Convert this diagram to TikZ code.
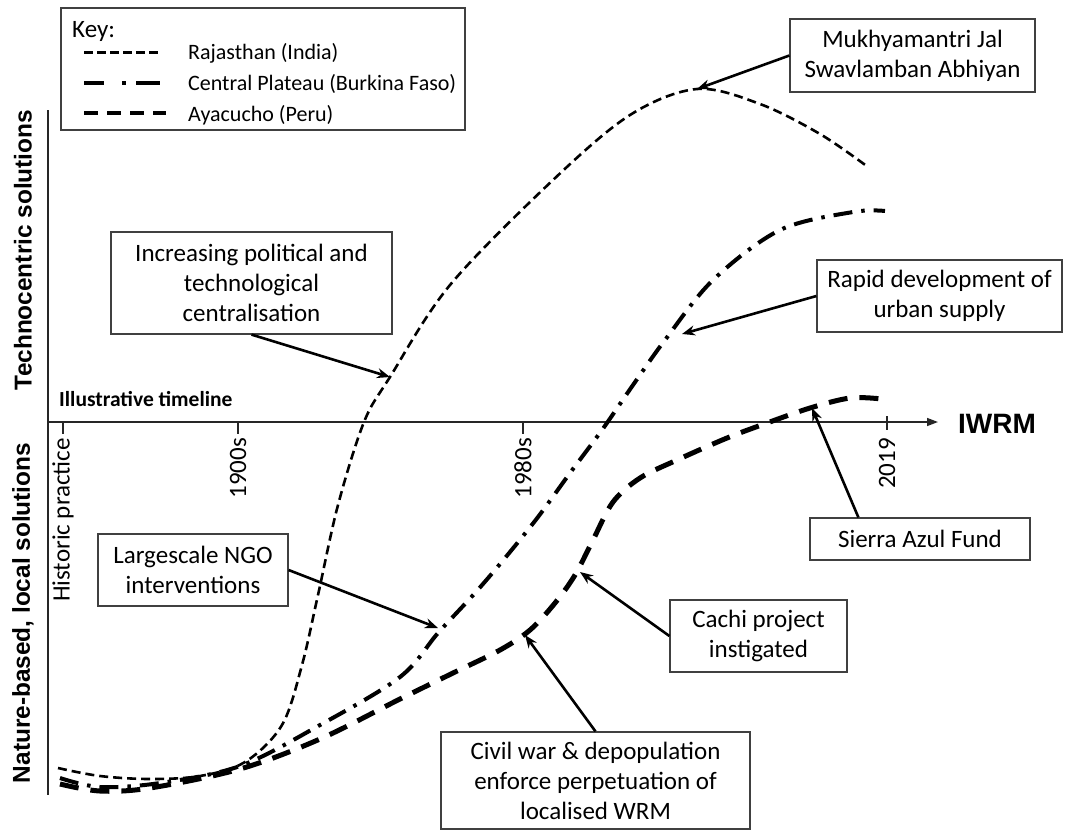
\documentclass[tikz,border=0pt]{standalone}
\usepackage{fontspec}
\setmainfont{Carlito}
\newfontfamily\titlefont{Liberation Sans}
\usetikzlibrary{arrows.meta,calc}
\begin{document}
\begin{tikzpicture}[x=1pt,y=-1pt,
  box/.style={draw=black!75, line width=1.2pt, fill=white, align=center, inner sep=0pt,
    font=\fontsize{25}{30}\selectfont, text=black},
  raj/.style={line width=2.6pt, dash pattern=on 9pt off 5pt},
  cen/.style={line width=4pt, dash pattern=on 19pt off 9pt on 3.5pt off 9pt},
  aya/.style={line width=5pt, dash pattern=on 19pt off 12pt},
  pointer/.style={line width=2.6pt, -{Stealth[length=13pt,width=10pt]}},
  axisline/.style={line width=1.5pt, draw=black!85},
  ticklab/.style={rotate=90, anchor=east, inner sep=2pt, font=\fontsize{25}{30}\selectfont, text=black},
  legtext/.style={anchor=base west, inner sep=0pt, font=\fontsize{22}{26}\selectfont, text=black},
  axtitle/.style={rotate=90, inner sep=0pt, font=\titlefont\bfseries\fontsize{24.4}{28}\selectfont}
]
\useasboundingbox (0,0) rectangle (1065,831);

% key
\node[draw=black!75, line width=1.2pt, fill=white, minimum width=404pt, minimum height=122pt, inner sep=0pt] (keybox) at (263,69) {};
\node[legtext, font=\fontsize{25}{30}\selectfont] (keylab) at (72,37) {Key:};
\draw[line width=3pt, dash pattern=on 9pt off 4pt] (84,52) coordinate (k1a) -- (160,52) coordinate (k1b);
\node[legtext] (leg1) at (188,59) {Rajasthan (India)};
\draw[line width=3.2pt] (84,83) coordinate (k2a) -- (104,83);
\draw[line width=3.2pt] (122,83) -- (126,83);
\draw[line width=3.2pt] (136,83) -- (160,83) coordinate (k2b);
\node[legtext] (leg2) at (188,90) {Central Plateau (Burkina Faso)};
\draw[line width=4pt, dash pattern=on 14pt off 9pt] (84,113) coordinate (k3a) -- (166,113) coordinate (k3b);
\node[legtext] (leg3) at (188,121) {Ayacucho (Peru)};

% axes
\coordinate (yt) at (48,110);
\coordinate (yb) at (48,795);
\coordinate (xl) at (48,422);
\coordinate (xr) at (938,422);
\draw[axisline] (yt) -- (yb);
\draw[axisline, -{Triangle[length=11pt,width=8pt]}] (xl) -- (xr);

\node[anchor=base west, inner sep=0pt, font=\bfseries\fontsize{21.5}{25}\selectfont] (illus) at (59,406) {Illustrative timeline};
\node[anchor=base west, inner sep=0pt, font=\titlefont\bfseries\fontsize{28}{32}\selectfont] (iwrm) at (958,433) {IWRM};
\node[axtitle] (techno) at (23,250) {Technocentric solutions};
\node[axtitle] (nature) at (23,613) {Nature-based, local solutions};

% ticks
\foreach \x/\lab/\nm in {63/Historic practice/t0, 238/1900s/t1, 523/1980s/t2} {
  \draw[axisline] (\x,422) -- (\x,434);
  \node[ticklab] (\nm) at (\x,436) {\lab};
}
\draw[axisline] (887,416) -- (887,430);
\node[ticklab] (t3) at (887,436) {2019};

% curves
\draw[raj] plot[smooth, tension=0.55] coordinates {(58,768) (100,776) (150,779) (200,776) (245,762) (282,725) (302,665) (318,595) (338,505) (364,422) (390,377) (450,285) (553,180) (630,115) (697,89) (760,104) (820,134) (868,167)};
\draw[cen] plot[smooth, tension=0.55] coordinates {(60,778) (100,787) (160,783) (240,766) (320,725) (400,677) (438,633) (475,593) (505,558) (538,517) (570,473) (602,430) (633,385) (665,340) (713,280) (780,230) (853,212) (885,211)};
\draw[aya] plot[smooth, tension=0.55] coordinates {(60,784) (100,791) (150,788) (240,769) (320,739) (400,699) (453,673) (500,650) (530,630) (555,603) (575,575) (593,540) (613,502) (640,478) (677,460) (727,438) (767,423) (810,408) (850,398) (882,399)};

% annotation boxes
\node[box, minimum width=245pt, minimum height=73pt] (muk) at (912.5,55.5) {Mukhyamantri Jal\\Swavlamban Abhiyan};
\node[box, minimum width=281pt, minimum height=102pt] (inc) at (251.5,283) {Increasing political and\\technological\\centralisation};
\node[box, minimum width=245pt, minimum height=72pt] (rapid) at (939.5,296) {Rapid development of\\urban supply};
\node[box, minimum width=190pt, minimum height=72pt] (ngo) at (193,570) {Largescale NGO\\interventions};
\node[box, minimum width=177pt, minimum height=72pt] (cachi) at (758.5,636) {Cachi project\\instigated};
\node[box, minimum width=220pt, minimum height=42pt] (sierra) at (920,539) {Sierra Azul Fund};
\node[box, minimum width=309pt, minimum height=97pt] (civil) at (595.5,780.5) {Civil war \& depopulation\\enforce perpetuation of\\localised WRM};

% arrow targets on curves
\coordinate (pmuk) at (697,89);
\coordinate (pinc) at (390,377);
\coordinate (prapid) at (682,334);
\coordinate (pngo) at (438,628);
\coordinate (pcachi) at (580,572);
\coordinate (pcivil) at (525,635);
\coordinate (psierra) at (812,408);

\draw[pointer] (muk.west) -- (pmuk);
\draw[pointer] (inc.south) -- (pinc);
\draw[pointer] (rapid.west) -- (prapid);
\draw[pointer] (ngo.east) -- (pngo);
\draw[pointer] (cachi.west) -- (pcachi);
\draw[pointer] (civil.north) -- (pcivil);
\draw[pointer] ([xshift=49pt]sierra.north west) -- (psierra);
\end{tikzpicture}
\end{document}
